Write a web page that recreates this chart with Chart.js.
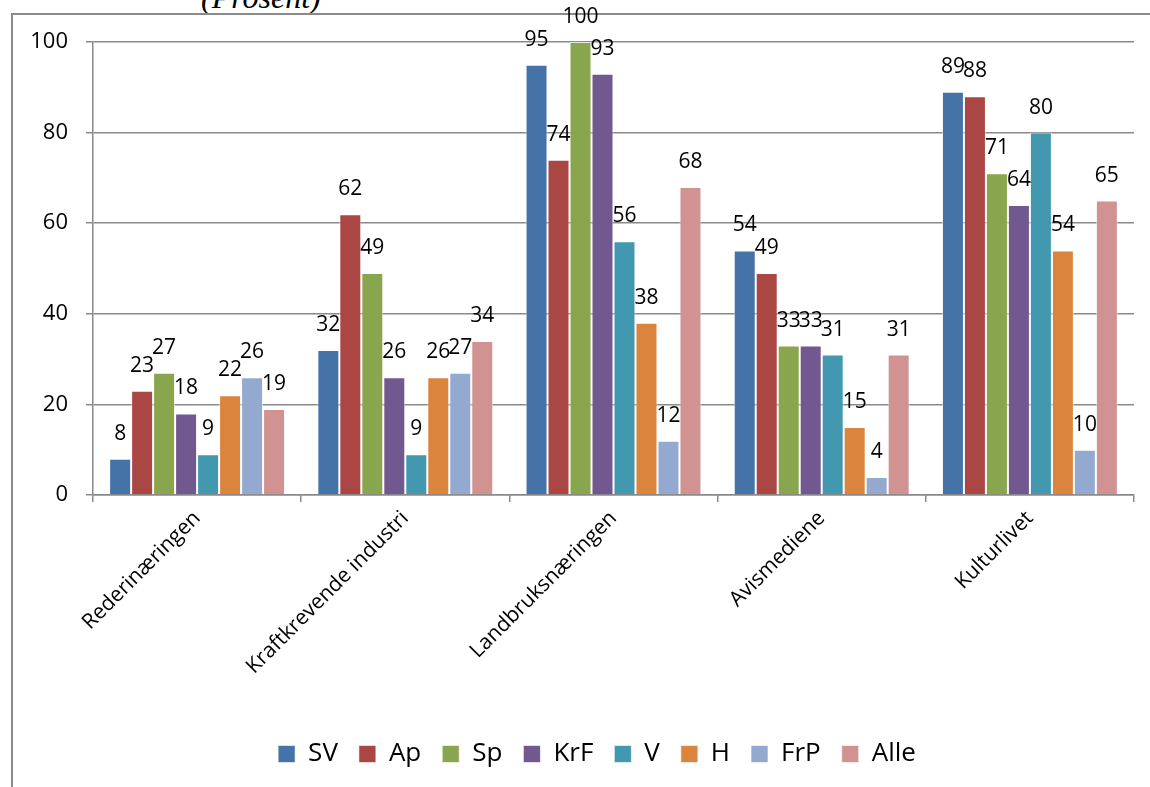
<!DOCTYPE html>
<html>
<head>
<meta charset="utf-8">
<script src="https://cdn.jsdelivr.net/npm/chart.js@4"></script>
<style>
    body { margin: 0; background: #fff; }
    #wrap { position: relative; width: 1150px; height: 787px; overflow: hidden; }
    #frame { position: absolute; left: 11px; top: 13px; width: 1200px; height: 900px; border-left: 2px solid #8a8a8a; border-top: 2px solid #8a8a8a; }
    #title { position: absolute; left: 201px; top: -21px; line-height: 32px; font: italic 32px "Liberation Serif", serif; color: #000; }
    canvas { position: absolute; left: 0; top: 0; }
</style>
</head>
<body>
<div id="wrap">
    <div id="title">(Prosent)</div>
    <div id="frame"></div>
    <canvas id="chart" width="1150" height="787"></canvas>
</div>
<script>
const categories = ['Rederinæringen', 'Kraftkrevende industri', 'Landbruksnæringen', 'Avismediene', 'Kulturlivet'];
const parties = ['SV', 'Ap', 'Sp', 'KrF', 'V', 'H', 'FrP', 'Alle'];
const colors = ['#4572A7', '#AA4643', '#89A54E', '#71588F', '#4198AF', '#DB843D', '#93A9CF', '#D19392'];

const sv   = [8, 32, 95, 54, 89];
const ap   = [23, 62, 74, 49, 88];
const sp   = [27, 49, 100, 33, 71];
const krf  = [18, 26, 93, 33, 64];
const v    = [9, 9, 56, 31, 80];
const h    = [22, 26, 38, 15, 54];
const frp  = [26, 27, 12, 4, 10];
const alle = [19, 34, 68, 31, 65];
const series = [sv, ap, sp, krf, v, h, frp, alle];

const yTicks = [0, 20, 40, 60, 80, 100];

const FONT = '"Open Sans", sans-serif';

// draws the value above every bar
const valueLabels = {
    id: 'valueLabels',
    afterDatasetsDraw(chart) {
        const ctx = chart.ctx;
        ctx.save();
        ctx.fillStyle = '#000';
        ctx.font = '21px ' + FONT;
        ctx.textAlign = 'center';
        ctx.textBaseline = 'alphabetic';
        chart.data.datasets.forEach((ds, i) => {
            chart.getDatasetMeta(i).data.forEach((bar, j) => {
                ctx.fillText(String(ds.data[j]), bar.x, bar.y - 19);
            });
        });
        ctx.restore();
    }
};

// the original legend sits a bit right of the canvas centre
const legendShift = {
    id: 'legendShift',
    afterLayout(chart) {
        chart.legend.left += 30;
        chart.legend.right += 30;
    }
};

new Chart(document.getElementById('chart'), {
    type: 'bar',
    data: {
        labels: categories,
        datasets: parties.map((p, i) => ({
            label: p,
            data: series[i],
            backgroundColor: colors[i],
            borderColor: 'rgba(255,255,255,0.6)',
            borderWidth: 1,
            categoryPercentage: 0.845,
            barPercentage: 1
        }))
    },
    options: {
        responsive: false,
        animation: false,
        layout: { padding: { left: 0, right: 16, top: 42, bottom: 10 } },
        plugins: {
            tooltip: { enabled: false },
            legend: {
                position: 'bottom',
                labels: {
                    boxWidth: 17,
                    boxHeight: 17,
                    padding: 21,
                    color: '#000',
                    font: { family: FONT, size: 26 }
                }
            }
        },
        scales: {
            x: {
                afterFit(axis) { axis.height = 225; },
                grid: { offset: true, drawOnChartArea: false, tickLength: 7, color: '#8a8a8a', lineWidth: 1.5 },
                border: { color: '#8a8a8a', width: 1.5 },
                ticks: {
                    color: '#000',
                    maxRotation: 45,
                    minRotation: 45,
                    padding: 4,
                    font: { family: FONT, size: 21 }
                }
            },
            y: {
                min: 0,
                max: 100,
                afterFit(axis) { axis.width = 93; },
                afterBuildTicks(axis) { axis.ticks = yTicks.map(t => ({ value: t })); },
                grid: { color: '#8a8a8a', lineWidth: 1.5, tickLength: 7 },
                border: { color: '#8a8a8a', width: 1.5 },
                ticks: {
                    color: '#000',
                    padding: 18,
                    font: { family: FONT, size: 22 }
                }
            }
        }
    },
    plugins: [valueLabels, legendShift]
});
</script>
</body>
</html>
